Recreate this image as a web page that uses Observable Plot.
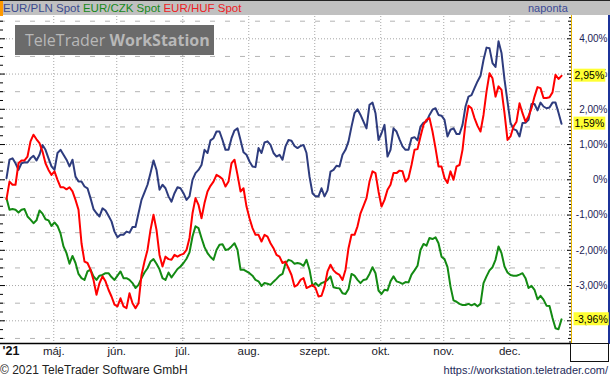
<!DOCTYPE html>
<html>
<head>
<meta charset="utf-8">
<script src="https://cdn.jsdelivr.net/npm/d3@7"></script>
<script src="https://cdn.jsdelivr.net/npm/@observablehq/plot@0.6"></script>
<style>
  body { margin: 0; background: #fff; }
  #wrap { position: relative; width: 610px; height: 379px; overflow: hidden; background: #fff; font-family: "Liberation Sans", Arial, sans-serif; }
  #header { position: absolute; left: 0; top: 0; width: 610px; height: 15px; background: #c0c0c0; border-top: 1px solid #222; box-sizing: border-box; }
  #header .mark { position: absolute; left: 0; top: 0; width: 3px; height: 15px; background: #ff9900; }
  #header .leg { position: absolute; left: 3px; top: 0px; font-size: 11.5px; line-height: 14px; white-space: nowrap; }
  #header .per { position: absolute; left: 528px; top: 0px; font-size: 11px; line-height: 14px; color: #3b4a96; }
  #chart { position: absolute; left: 0; top: 16px; }
  #wm { position: absolute; left: 15px; top: 25px; width: 199px; height: 30px; background: #6b6b6b; color: #b8b8b8; font-family: "Open Sans", sans-serif; font-size: 16px; line-height: 30px; white-space: nowrap; box-sizing: border-box; padding-left: 10px; }
  #rpanel { position: absolute; left: 571px; top: 15px; width: 39px; height: 329px; border-left: 1px solid #e6b400; border-right: 2px solid #1c3399; box-sizing: border-box; }
  #rbox { position: absolute; left: 570px; top: 343px; width: 39px; height: 19px; border: 1px solid #111; box-sizing: border-box; }
  #footer-left { position: absolute; left: 0; top: 362px; font-size: 12px; line-height: 17px; color: #222; white-space: nowrap; }
  #footer-right { position: absolute; right: 2px; top: 362px; font-size: 11px; line-height: 17px; color: #1e2a5a; white-space: nowrap; }
</style>
</head>
<body>
<div id="wrap">
  <div id="header">
    <div class="mark"></div>
    <div class="leg"><span style="color:#3b4a8f">EUR/PLN Spot</span> <span style="color:#17891a">EUR/CZK Spot</span> <span style="color:#ee1c24">EUR/HUF Spot</span></div>
    <div class="per">naponta</div>
  </div>
  <div id="rpanel"></div>
  <div id="chart"></div>
  <div id="rbox"></div>
  <div id="wm">TeleTrader <b>WorkStation</b></div>
  <div id="footer-left">© 2021 TeleTrader Software GmbH</div>
  <div id="footer-right">https://workstation.teletrader.com/</div>
</div>
<script>
// ---- data (percent change, one value per trading day) ----
const seriesNames = ["EUR/PLN Spot", "EUR/CZK Spot", "EUR/HUF Spot"];
const seriesColors = ["#2e3c7e", "#138a13", "#ff0000"];

const plnValues = [
  0.05, 0.57, 0.61, 0.47, 0.28, 0.47, 0.50, 0.49, 0.61, 0.68, 0.55, 0.71, 0.99, 0.85, 0.61, 0.38, 0.28, 0.76, 0.85, 0.71,
  0.57, 0.38, 0.57, 0.09, -0.05, -0.05, -0.19, -0.24, -0.52, -0.83, -0.95, -1.04, -0.81, -0.87, -1.02, -1.18, -1.47, -1.63, -1.56, -1.56,
  -1.47, -1.50, -1.34, -1.34, -0.95,
  -0.57, -0.36, -0.14, 0.19, 0.55, 0.28, -0.28, -0.14, -0.24, -0.47, -0.62, -0.38, -0.21, -0.24, -0.38, -0.57, -0.47, 0.0, 0.19, 0.28,
  0.42, 0.85, 0.76, 1.12, 1.18, 1.37, 1.37, 1.13, 0.85, 0.85, 1.18, 1.40, 1.46, 1.13, 0.78, 0.71, 0.52, 0.38, 0.36, 0.90,
  0.76, 1.06, 1.09, 0.99, 0.76, 0.66, 0.71, 0.57,
  0.95, 1.13, 1.11, 0.96, 0.90, 0.96, 0.99, 0.76, 0.09, -0.38, -0.47, -0.47, -0.24, -0.47, -0.30, 0.23, 0.28, 0.40, 0.38, 0.71,
  0.85, 1.09, 1.51, 1.89, 2.00, 1.84, 1.65, 1.46, 2.13, 2.19, 1.89, 1.13, 1.32, 1.56, 0.66, 0.85, 1.46, 1.37, 1.15, 0.95,
  0.85, 0.85, 1.18, 1.21, 1.12, 1.51, 1.62,
  1.65, 1.84, 1.99, 2.03, 1.84, 1.82, 1.70, 1.23, 1.42, 1.46, 1.30, 1.30, 1.56, 2.08, 2.36, 2.40, 2.60, 2.79, 2.95, 3.40,
  3.75, 3.73, 3.31, 3.20, 3.93, 3.60, 2.84, 2.22, 1.61, 1.44, 1.40, 1.23, 1.61, 1.62, 1.70, 2.15, 2.15, 1.97, 2.19, 2.08,
  2.03, 2.05, 2.19, 2.19, 1.90, 1.59
];

const czkValues = [
  -0.52, -0.85, -0.83, -0.85, -0.93, -0.85, -0.83, -1.04, -1.13, -1.23, -1.15, -0.87, -0.96, -1.12, -1.15, -1.31, -1.21, -1.31, -1.52, -1.89,
  -2.08, -2.38, -2.16, -2.36, -2.67, -2.79, -2.84, -2.60, -2.55, -2.74, -2.84, -2.72, -2.70, -2.65, -2.65, -2.76, -2.84, -2.72, -2.60, -2.79,
  -2.79, -2.84, -2.93, -3.07, -2.98,
  -2.79, -2.63, -2.51, -2.32, -2.25, -2.38, -2.54, -2.79, -2.84, -2.63, -2.77, -2.65, -2.53, -2.46, -2.36, -2.24, -2.06, -1.61, -1.32, -1.37,
  -1.65, -1.91, -2.08, -2.19, -2.27, -1.99, -1.84, -1.83, -1.99, -1.97, -1.89, -1.80, -1.99, -2.55, -2.55, -2.60, -2.65, -2.72, -2.84, -2.88,
  -3.01, -2.93, -2.95, -2.98, -2.89, -2.81, -2.72, -2.67,
  -2.37, -2.27, -2.30, -2.38, -2.36, -2.38, -2.44, -2.27, -2.55, -3.01, -2.93, -3.01, -2.93, -2.90, -2.84, -2.74, -3.05, -3.07, -3.08, -3.22,
  -3.24, -3.10, -2.67, -2.72, -2.84, -2.93, -2.84, -2.82, -2.67, -2.48, -2.65, -3.14, -3.24, -3.12, -3.14, -2.88, -2.74, -2.88, -2.91, -2.95,
  -2.90, -2.91, -2.69, -2.57, -2.44, -1.99, -1.82,
  -1.87, -1.65, -1.68, -1.63, -1.80, -2.18, -2.25, -2.48, -3.03, -3.42, -3.46, -3.52, -3.55, -3.55, -3.52, -3.56, -3.52, -3.59, -3.52, -2.93,
  -2.74, -2.57, -2.48, -2.27, -1.89, -2.08, -2.46, -2.63, -2.70, -2.72, -2.72, -2.69, -2.65, -2.79, -3.07, -3.01, -3.12, -3.39, -3.29, -3.40,
  -3.57, -3.58, -3.92, -4.21, -4.24, -3.96
];

const hufValues = [
  -0.55, -0.05, -0.14, -0.14, 0.47, 0.55, 0.55, 0.66, 1.09, 1.28, 1.15, 1.04, 0.80, 0.47, 0.28, 0.14, 0.24, 0.0, -0.21, -0.21,
  -0.27, -0.21, -0.33, -0.57, -0.85, -1.80, -2.32, -2.36, -2.55, -2.84, -3.26, -2.93, -2.74, -2.88, -3.12, -3.31, -3.54, -3.59, -3.36, -3.59,
  -3.64, -3.22, -3.50, -3.64, -3.50,
  -2.70, -2.32, -1.99, -1.42, -0.99, -1.42, -2.13, -2.46, -2.18, -2.25, -2.27, -2.13, -2.18, -2.13, -2.10, -1.99, -1.65, -0.95, -0.52, -0.71,
  -1.09, -0.66, -0.33, -0.17, -0.05, 0.14, 0.09, 0.02, -0.19, -0.05, 0.47, 0.57, 0.14, -0.33, -0.24, -0.76, -1.09, -1.37, -1.56, -1.56,
  -1.75, -1.56, -1.61, -1.80, -1.94, -2.13, -2.18, -2.36,
  -2.32, -2.51, -2.70, -3.03, -2.98, -2.84, -2.79, -3.07, -3.03, -2.98, -3.07, -3.31, -3.29, -3.03, -2.60, -2.41, -2.57, -2.65, -2.70, -2.84,
  -2.55, -1.94, -1.56, -1.56, -1.32, -0.95, -0.74, -0.52, -0.05, 0.24, 0.19, -0.33, -0.76, -0.57, -0.28, -0.14, 0.19, 0.19, 0.26, 0.24,
  -0.05, 0.05, 0.42, 0.85, 0.87, 1.23, 1.56,
  1.70, 1.75, 1.37, 0.90, 0.38, 0.38, 0.05, -0.09, 0.24, 0.0, 0.38, 0.42, 0.85, 1.61, 2.10, 2.03, 1.75, 1.53, 1.37, 1.84,
  2.50, 3.02, 2.88, 2.36, 2.65, 2.55, 1.89, 1.13, 1.23, 1.51, 1.65, 2.17, 1.89, 1.65, 1.80, 2.03, 2.36, 2.63, 2.60, 2.32,
  2.32, 2.34, 2.48, 2.98, 2.86, 2.95
];

// month starts, as trading-day positions, and their labels
const monthTicks = [15.75, 36.75, 58.75, 80.75, 102.75, 124.75, 145.75, 167.75];
const monthLabels = ["máj.", "jún.", "júl.", "aug.", "szept.", "okt.", "nov.", "dec."];
const yearLabel = "'21";
const yTickValues = [-4, -3, -2, -1, 0, 1, 2, 3, 4];
const yHalfValues = [-4.5, -3.5, -2.5, -1.5, -0.5, 0.5, 1.5, 2.5, 3.5, 4.5];

// ---- build ----
const allValues = [plnValues, czkValues, hufValues];
const rows = allValues.flatMap((vals, s) => vals.map((v, i) => ({ i, v, name: seriesNames[s] })));
const lastRows = allValues.map((vals, s) => ({ v: vals[vals.length - 1], name: seriesNames[s] }));

const fmtPct = (v) => (v === 0 ? "0%" : v.toFixed(2).replace(".", ",") + "%");
const lastLabelSet = new Set(lastRows.map((d) => fmtPct(d.v)));

const yDomain = [-4.644, 4.633];
const minorTicks = d3.range(-46, 47).map((k) => k / 10);
const quarterTicks = d3.range(-18, 19).map((k) => k / 4);

const chart = Plot.plot({
  width: 610,
  height: 346,
  marginTop: 0,
  marginLeft: 0,
  marginRight: 39,
  marginBottom: 19,
  x: { domain: [-2, 188.33], axis: null },
  y: { domain: yDomain, axis: null },
  color: { domain: seriesNames, range: seriesColors },
  style: { fontFamily: "'Liberation Sans', Arial, sans-serif", background: "transparent", overflow: "visible" },
  marks: [
    // grid
    Plot.ruleY(yHalfValues, { stroke: "#b4b4b4", strokeDasharray: "5,10", strokeWidth: 1 }),
    Plot.ruleY(yTickValues, { stroke: "#a6a6a6", strokeDasharray: "1,2", strokeWidth: 1 }),
    Plot.ruleX(monthTicks, { stroke: "#a6a6a6", strokeDasharray: "1,2", strokeWidth: 1 }),
    // left ticks
    Plot.ruleY(quarterTicks.filter((d) => d % 1 !== 0), { stroke: "#000", insetRight: 568 }),
    Plot.ruleY(yTickValues, { stroke: "#000", insetRight: 566 }),
    // right ticks
    Plot.ruleY(minorTicks.filter((d) => Math.abs(d * 2 - Math.round(d * 2)) > 1e-6), { stroke: "#000", insetLeft: 569 }),
    Plot.ruleY(yHalfValues, { stroke: "#000", insetLeft: 568 }),
    Plot.ruleY(yTickValues, { stroke: "#000", insetLeft: 567 }),
    // series
    Plot.line(rows, { x: "i", y: "v", z: "name", stroke: "name", strokeWidth: 2 }),
    // bottom axis line
    Plot.ruleY([yDomain[0]], { stroke: "#000", strokeWidth: 1.5 }),
    // x labels
    Plot.text(monthTicks, { x: (d) => d, text: (d, i) => monthLabels[i], frameAnchor: "bottom", dy: 11, fontSize: 11.5, fill: "#1a1a2a" }),
    Plot.text([yearLabel], { frameAnchor: "bottom-left", textAnchor: "start", dx: 2, dy: 11, fontSize: 12.5, fontWeight: "bold", fill: "#111" }),
    // right axis labels
    Plot.text(yTickValues, { y: (d) => d, text: fmtPct, frameAnchor: "right", textAnchor: "end", dx: 36, fontSize: 10, fill: "#1c2456" }),
    // last value labels
    Plot.text(lastRows, { y: "v", text: (d) => fmtPct(d.v), frameAnchor: "right", textAnchor: "start", dx: 3, fontSize: 10.5, fill: "#000" })
  ]
});

document.getElementById("chart").append(chart);

// yellow backgrounds behind the last-value labels
const svgNS = "http://www.w3.org/2000/svg";
Array.from(chart.querySelectorAll("text"))
  .filter((t) => lastLabelSet.has(t.textContent.trim()))
  .forEach((t) => {
    const b = t.getBBox();
    const r = document.createElementNS(svgNS, "rect");
    r.setAttribute("x", b.x - 1);
    r.setAttribute("y", b.y - 0.5);
    r.setAttribute("width", b.width + 2);
    r.setAttribute("height", b.height + 1);
    r.setAttribute("fill", "#ffff33");
    const tr = t.getAttribute("transform");
    if (tr) r.setAttribute("transform", tr);
    t.parentNode.insertBefore(r, t);
  });
</script>
</body>
</html>
